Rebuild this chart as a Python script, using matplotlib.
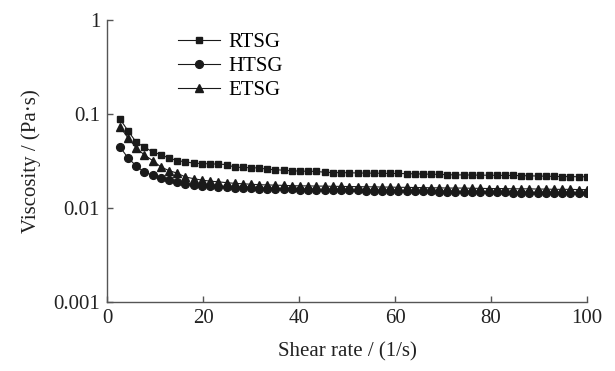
import matplotlib
matplotlib.use("Agg")
import matplotlib.pyplot as plt
from matplotlib.ticker import FixedLocator, FixedFormatter, NullLocator

plt.rcParams["font.family"] = ["Liberation Serif", "DejaVu Serif"]

shear_rate = [
    2.7, 4.4, 6.1, 7.8, 9.5, 11.2, 12.9, 14.6, 16.3, 18.1,
    19.8, 21.5, 23.2, 24.9, 26.6, 28.3, 30.0, 31.7, 33.4, 35.1,
    36.8, 38.5, 40.2, 41.9, 43.6, 45.4, 47.1, 48.8, 50.5, 52.2,
    53.9, 55.6, 57.3, 59.0, 60.7, 62.4, 64.1, 65.8, 67.5, 69.2,
    70.9, 72.6, 74.4, 76.1, 77.8, 79.5, 81.2, 82.9, 84.6, 86.3,
    88.0, 89.7, 91.4, 93.1, 94.8, 96.5, 98.3, 100.0,
]
rtsg = [
    0.0885, 0.0660, 0.0500, 0.0445, 0.0395, 0.0370, 0.0340, 0.0320, 0.0310, 0.0300,
    0.0297, 0.0295, 0.0293, 0.0290, 0.0272, 0.0270, 0.0268, 0.0267, 0.0258, 0.0256,
    0.0252, 0.0249, 0.0247, 0.0246, 0.0245, 0.0240, 0.0238, 0.0238, 0.0237, 0.0236,
    0.0235, 0.0235, 0.0234, 0.0233, 0.0233, 0.0232, 0.0231, 0.0230, 0.0229, 0.0228,
    0.0226, 0.0225, 0.0225, 0.0224, 0.0224, 0.0223, 0.0223, 0.0222, 0.0222, 0.0221,
    0.0220, 0.0219, 0.0218, 0.0217, 0.0216, 0.0216, 0.0215, 0.0215,
]
htsg = [
    0.0446, 0.0340, 0.0280, 0.0240, 0.0224, 0.0209, 0.0199, 0.0190, 0.0182, 0.0177,
    0.0173, 0.0170, 0.0168, 0.0166, 0.0164, 0.0163, 0.0162, 0.0161, 0.0160, 0.0159,
    0.0158, 0.0158, 0.0157, 0.0157, 0.0156, 0.0156, 0.0155, 0.0155, 0.0154, 0.0154,
    0.0153, 0.0153, 0.0152, 0.0152, 0.0151, 0.0151, 0.0150, 0.0150, 0.0150, 0.0149,
    0.0149, 0.0149, 0.0148, 0.0148, 0.0148, 0.0147, 0.0147, 0.0147, 0.0146, 0.0146,
    0.0146, 0.0145, 0.0145, 0.0145, 0.0144, 0.0144, 0.0144, 0.0143,
]
etsg = [
    0.0730, 0.0556, 0.0436, 0.0366, 0.0320, 0.0274, 0.0250, 0.0235, 0.0214, 0.0205,
    0.0198, 0.0193, 0.0190, 0.0186, 0.0183, 0.0181, 0.0179, 0.0177, 0.0176, 0.0175,
    0.0174, 0.0173, 0.0172, 0.0172, 0.0171, 0.0171, 0.0170, 0.0170, 0.0169, 0.0169,
    0.0168, 0.0168, 0.0167, 0.0167, 0.0166, 0.0166, 0.0165, 0.0165, 0.0164, 0.0164,
    0.0163, 0.0163, 0.0163, 0.0162, 0.0162, 0.0161, 0.0161, 0.0161, 0.0160, 0.0160,
    0.0160, 0.0159, 0.0159, 0.0158, 0.0158, 0.0158, 0.0157, 0.0157,
]

x_ticks = [0, 20, 40, 60, 80, 100]
y_ticks = [0.001, 0.01, 0.1, 1]
y_tick_labels = ["0.001", "0.01", "0.1", "1"]

fig = plt.figure(figsize=(6.15, 3.71), dpi=100)
ax = fig.add_axes([0.174, 0.186, 0.7805, 0.760])

ink = "#1a1a1a"
ax.plot(shear_rate, rtsg, "-s", color=ink, lw=0.8, ms=5.0, label="RTSG")
ax.plot(shear_rate, htsg, "-o", color=ink, lw=0.8, ms=5.6, label="HTSG")
ax.plot(shear_rate, etsg, "-^", color=ink, lw=0.8, ms=5.6, label="ETSG")

ax.set_yscale("log")
ax.set_xlim(0, 100)
ax.set_ylim(0.001, 1)
ax.xaxis.set_major_locator(FixedLocator(x_ticks))
ax.yaxis.set_major_locator(FixedLocator(y_ticks))
ax.yaxis.set_major_formatter(FixedFormatter(y_tick_labels))
ax.yaxis.set_minor_locator(NullLocator())

for side in ("top", "right"):
    ax.spines[side].set_visible(False)
for side in ("left", "bottom"):
    ax.spines[side].set_color("#555555")
    ax.spines[side].set_linewidth(1.0)

ax.tick_params(direction="in", length=4, width=1.0, color="#555555",
               labelsize=15, labelcolor="#222222", pad=5)

ax.set_xlabel("Shear rate / (1/s)", fontsize=15, color="#222222", labelpad=10)
ax.set_ylabel("Viscosity / (Pa·s)", fontsize=15, color="#222222", labelpad=9)

ax.legend(loc="upper left", bbox_to_anchor=(0.126, 0.993), frameon=False,
          fontsize=15, handlelength=2.0, handletextpad=0.4, labelspacing=0.22,
          borderpad=0)

fig.savefig("out.png", dpi=100, facecolor="white")
